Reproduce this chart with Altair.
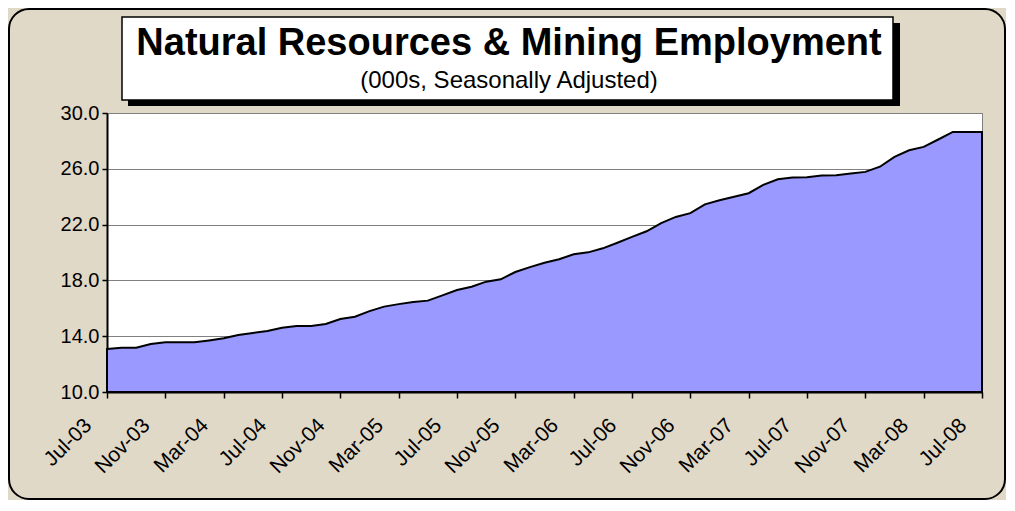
import altair as alt
import pandas as pd

# Monthly values, Jul-03 .. Jul-08 (000s, seasonally adjusted)
values = [13.08, 13.18, 13.18, 13.44, 13.56, 13.56, 13.56, 13.70, 13.85, 14.09,
          14.23, 14.37, 14.60, 14.73, 14.73, 14.87, 15.23, 15.40, 15.80, 16.12,
          16.30, 16.45, 16.55, 16.93, 17.31, 17.55, 17.91, 18.08, 18.60, 18.95,
          19.27, 19.52, 19.87, 20.01, 20.30, 20.70, 21.12, 21.52, 22.10, 22.55,
          22.82, 23.45, 23.75, 24.00, 24.25, 24.85, 25.25, 25.38, 25.39, 25.52,
          25.53, 25.66, 25.78, 26.15, 26.85, 27.33, 27.57, 28.10, 28.64, 28.64,
          28.64]
month_index = list(range(len(values)))
tick_index = [0, 4, 8, 12, 16, 20, 24, 28, 32, 36, 40, 44, 48, 52, 56, 60]
tick_labels = ["Jul-03", "Nov-03", "Mar-04", "Jul-04", "Nov-04", "Mar-05",
               "Jul-05", "Nov-05", "Mar-06", "Jul-06", "Nov-06", "Mar-07",
               "Jul-07", "Nov-07", "Mar-08", "Jul-08"]
y_ticks = [10, 14, 18, 22, 26, 30]
title_text = "Natural Resources & Mining Employment"
subtitle_text = "(000s, Seasonally Adjusted)"

W, H = 875, 279
FONT = "Liberation Sans"

df = pd.DataFrame({"i": month_index, "v": values})
one = pd.DataFrame({"k": [0]})

label_arr = "[" + ",".join("'%s'" % s for s in tick_labels) + "]"

area = alt.Chart(df).mark_area(
    color="#9999FF", stroke="black", strokeWidth=2, opacity=1
).encode(
    x=alt.X("i:Q", scale=alt.Scale(domain=[0, 60], nice=False, zero=False),
            axis=alt.Axis(values=tick_index, labelExpr=label_arr + "[round(datum.value/4)]",
                          title=None, grid=False, domainColor="black", domainWidth=2,
                          tickColor="black", tickSize=6, tickWidth=1.5,
                          labelAngle=315, labelAlign="right", labelBaseline="middle",
                          labelFont=FONT, labelFontSize=21, labelColor="black",
                          labelPadding=24, labelOffset=-19, labelOverlap=False)),
    y=alt.Y("v:Q", scale=alt.Scale(domain=[10, 30], nice=False, zero=False),
            axis=alt.Axis(values=y_ticks, format=".1f", title=None,
                          grid=True, gridColor="#808080", gridWidth=1,
                          domainColor="black", domainWidth=2,
                          tickColor="black", tickSize=5, tickWidth=1.5,
                          labelFont=FONT, labelFontSize=20, labelColor="black",
                          labelPadding=3)),
    y2=alt.datum(10),
)

shadow = alt.Chart(one).mark_rect(color="black").encode(
    x=alt.value(21), x2=alt.value(793), y=alt.value(-90), y2=alt.value(-7))
box = alt.Chart(one).mark_rect(fill="white", stroke="black", strokeWidth=1.5).encode(
    x=alt.value(15), x2=alt.value(786), y=alt.value(-96), y2=alt.value(-13))
title = alt.Chart(one).mark_text(font=FONT, fontSize=38, fontWeight="bold",
                                 align="center", baseline="alphabetic", color="black").encode(
    x=alt.value(402), y=alt.value(-58), text=alt.value(title_text))
subtitle = alt.Chart(one).mark_text(font=FONT, fontSize=24,
                                    align="center", baseline="alphabetic", color="black").encode(
    x=alt.value(402), y=alt.value(-25), text=alt.value(subtitle_text))
border = alt.Chart(one).mark_rect(fill="transparent", stroke="black", strokeWidth=2,
                                  cornerRadius=20).encode(
    x=alt.value(-98), x2=alt.value(898), y=alt.value(-104), y2=alt.value(386))

chart = alt.layer(shadow, box, title, subtitle, area, border).properties(
    width=W, height=H,
    autosize=alt.AutoSizeParams(type="none"),
    padding={"left": 99, "top": 105, "right": 24, "bottom": 108},
    background="#E1D9C7",
).configure_view(fill="white", stroke="#808080", strokeWidth=1)

chart.save("out.html", embed_options={"renderer": "svg", "actions": False})
